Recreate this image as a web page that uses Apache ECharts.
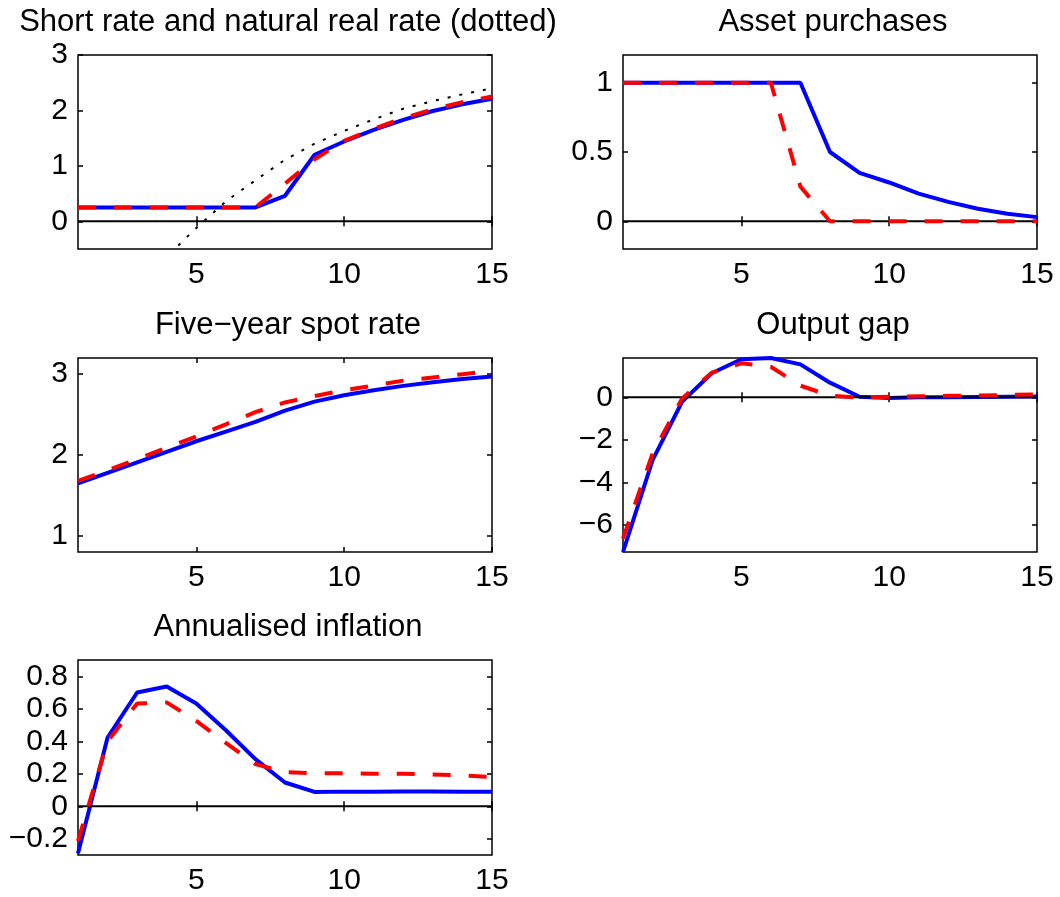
<!DOCTYPE html>
<html>
<head>
<meta charset="utf-8">
<script src="https://cdn.jsdelivr.net/npm/echarts@6/dist/echarts.min.js"></script>
<style>
html,body{margin:0;padding:0;background:#fff;}
#chart{width:1060px;height:897px;}
</style>
</head>
<body>
<div id="chart"></div>
<script>
// ---- data ----
const periods = [1,2,3,4,5,6,7,8,9,10,11,12,13,14,15];
const xTicks = [5,10,15];

const titles = [
  'Short rate and natural real rate (dotted)',
  'Asset purchases',
  'Five\u2212year spot rate',
  'Output gap',
  'Annualised inflation'
];

// Panel 1: short rate & natural real rate
const shortRateBlue = [0.25,0.25,0.25,0.25,0.25,0.25,0.25,0.46,1.20,1.44,1.65,1.83,1.99,2.11,2.21];
const shortRateRed  = [0.25,0.25,0.25,0.25,0.25,0.25,0.25,0.68,1.12,1.45,1.67,1.86,2.02,2.15,2.25];
const naturalRate   = [-2.3,-1.7,-1.15,-0.64,-0.12,0.36,0.74,1.11,1.40,1.63,1.84,2.03,2.17,2.29,2.40];
const yTicks1 = [0,1,2,3];

// Panel 2: asset purchases
const assetBlue = [1,1,1,1,1,1,1,0.5,0.35,0.28,0.2,0.14,0.09,0.055,0.03];
const assetRed  = [1,1,1,1,1,1,0.25,0,0,0,0,0,0,0,0];
const yTicks2 = [0,0.5,1];

// Panel 3: five-year spot rate
const spotBlue = [1.65,1.78,1.91,2.04,2.17,2.29,2.41,2.55,2.66,2.74,2.80,2.855,2.90,2.94,2.97];
const spotRed  = [1.68,1.81,1.95,2.09,2.23,2.38,2.53,2.65,2.73,2.80,2.86,2.92,2.96,3.00,3.04];
const yTicks3 = [1,2,3];

// Panel 4: output gap
const gapBlue = [-7.27,-2.95,-0.2,1.13,1.79,1.85,1.55,0.69,0.03,-0.03,0.0,0.01,0.02,0.03,0.04];
const gapRed  = [-6.64,-2.64,-0.05,1.16,1.6,1.44,0.55,0.08,-0.02,0.03,0.05,0.07,0.09,0.11,0.14];
const yTicks4 = [-6,-4,-2,0];

// Panel 5: annualised inflation
const inflBlue = [-0.29,0.423,0.70,0.737,0.632,0.468,0.29,0.146,0.088,0.09,0.09,0.091,0.091,0.09,0.09];
const inflRed  = [-0.214,0.40,0.632,0.639,0.525,0.39,0.26,0.21,0.203,0.203,0.20,0.20,0.195,0.19,0.18];
const yTicks5 = [-0.2,0,0.2,0.4,0.6,0.8];

// ---- layout ----
const FONT = 'Liberation Sans, Arial, Helvetica, sans-serif';
const FS = 30;
const TFS = 31;
const grids = [
  {left:78,  top:55,  width:414, height:194},
  {left:623, top:55,  width:414, height:194},
  {left:78,  top:358, width:414, height:194},
  {left:623, top:358, width:414, height:194},
  {left:78,  top:660, width:414, height:195}
];
const titleTops = [2, 2, 305, 305, 607];
const yRanges = [[-0.5,3],[-0.2,1.2],[0.8,3.2],[-7.27,1.85],[-0.3,0.9]];
const yTickSets = [yTicks1,yTicks2,yTicks3,yTicks4,yTicks5];

const fmt = v => String(Math.round(v*1000)/1000).replace('-', '\u2212');

const xAxis = [], yAxis = [], series = [], title = [];
grids.forEach((g, i) => {
  title.push({
    text: titles[i], left: g.left + g.width/2 - 2, top: titleTops[i], textAlign: 'center',
    textStyle: {fontSize: TFS, fontWeight: 'normal', color: '#000', fontFamily: FONT}
  });
  ['bottom','top'].forEach((pos, k) => {
    xAxis.push({
      type:'value', gridIndex:i, position:pos, min:1, max:15,
      axisLine:{show:false}, splitLine:{show:false},
      axisTick:{show:true, inside:true, length:5, customValues:xTicks, lineStyle:{color:'#000', width:1.5}},
      axisLabel:{show:k===0, customValues:xTicks, fontSize:FS, color:'#000', fontFamily:FONT, margin:11}
    });
  });
  const yt = yTickSets[i];
  ['left','right'].forEach((pos, k) => {
    yAxis.push({
      type:'value', gridIndex:i, position:pos, min:yRanges[i][0], max:yRanges[i][1],
      axisLine:{show:false}, splitLine:{show:false},
      axisTick:{show:true, inside:true, length:5, customValues:yt, lineStyle:{color:'#000', width:1.5}},
      axisLabel:{show:k===0, customValues:yt, fontSize:FS, color:'#000', fontFamily:FONT, margin:10, formatter:fmt,
                 padding:[4,0,0,0]}
    });
  });
});

const pairs = arr => periods.map((p, j) => [p, arr[j]]);
const zeros = periods.map(() => 0);
function line(i, arr, color, width, type, z) {
  return {
    type:'line', xAxisIndex:2*i, yAxisIndex:2*i, data:pairs(arr), showSymbol:false, symbol:'none',
    lineStyle:{color, width, type, cap:'butt'}, z, silent:true, clip:true
  };
}
const panelSeries = [
  [shortRateBlue, shortRateRed],
  [assetBlue, assetRed],
  [spotBlue, spotRed],
  [gapBlue, gapRed],
  [inflBlue, inflRed]
];
panelSeries.forEach((ps, i) => {
  series.push(line(i, ps[0], '#0000ff', 4, 'solid', 2));
  if (i !== 2) series.push(line(i, zeros, '#000000', 2, 'solid', 3));
  series.push(line(i, ps[1], '#ff0000', 4, [18,18], 4));
});
series.push(line(0, naturalRate, '#000000', 2, [3,9], 3));

const option = {
  animation:false,
  backgroundColor:'#fff',
  title,
  grid: grids.map(g => Object.assign({show:true, borderColor:'#000', borderWidth:1.5, backgroundColor:'#fff', containLabel:false}, g)),
  xAxis, yAxis, series
};
const chart = echarts.init(document.getElementById('chart'), null, {renderer:'canvas'});
chart.setOption(option);
</script>
</body>
</html>
